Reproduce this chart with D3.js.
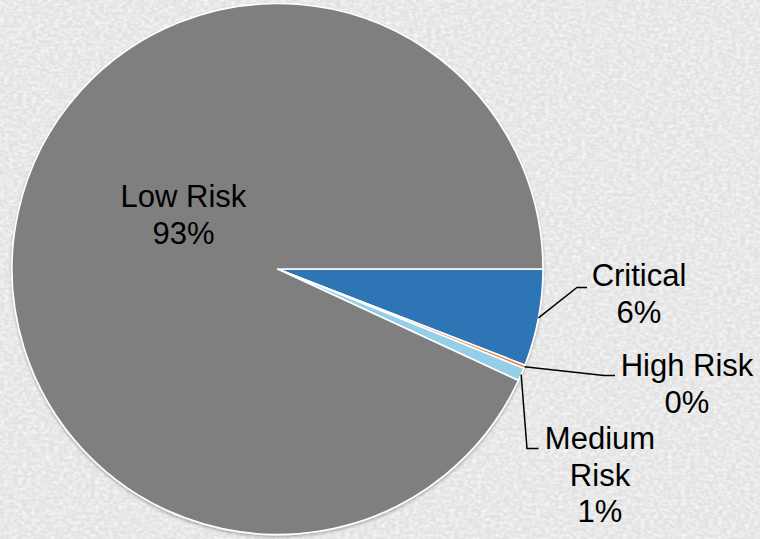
<!DOCTYPE html>
<html>
<head>
<meta charset="utf-8">
<script src="https://cdn.jsdelivr.net/npm/d3@7/dist/d3.min.js"></script>
<style>
  html, body { margin: 0; padding: 0; background: #e6e6e6; }
  svg { display: block; }
  text { font-family: "Liberation Sans", Arial, sans-serif; fill: #000; }
</style>
</head>
<body>
<svg id="chart" width="760" height="539"></svg>
<script>
// Risk distribution (share of total, %)
const categories = ["Critical", "High Risk", "Medium Risk", "Low Risk"];
const shares = [5.9, 0.2, 0.8, 93.1];
const colors = ["#2e75b6", "#ed7d31", "#93cfe8", "#7f7f7f"];

const width = 760, height = 539;
const cx = 277.5, cy = 269, radius = 265.5;
const fontSize = 31;

const svg = d3.select("#chart");
const defs = svg.append("defs");

// Fine-grained paper texture for the background
const paper = defs.append("filter").attr("id", "paper")
  .attr("x", 0).attr("y", 0).attr("width", "100%").attr("height", "100%");
paper.append("feTurbulence").attr("type", "fractalNoise")
  .attr("baseFrequency", "0.22 0.32").attr("numOctaves", 2).attr("seed", 3).attr("result", "noise");
paper.append("feColorMatrix").attr("in", "noise").attr("type", "matrix")
  .attr("values", "0 0 0 0 1  0 0 0 0 1  0 0 0 0 1  1.4 0 0 0 -0.5").attr("result", "light");
paper.append("feComposite").attr("in", "light").attr("in2", "SourceGraphic").attr("operator", "over");

const shadow = defs.append("filter").attr("id", "shadow")
  .attr("x", "-5%").attr("y", "-5%").attr("width", "110%").attr("height", "110%");
shadow.append("feDropShadow").attr("dx", 0).attr("dy", 2).attr("stdDeviation", 1.5)
  .attr("flood-color", "#000").attr("flood-opacity", 0.25);

svg.append("rect").attr("width", width).attr("height", height)
  .attr("fill", "#e2e2e2").attr("filter", "url(#paper)");

const data = categories.map((c, i) => ({ name: c, value: shares[i], color: colors[i] }));

const pie = d3.pie().value(d => d.value).sort(null)
  .startAngle(Math.PI / 2).endAngle(Math.PI / 2 + 2 * Math.PI);
const arcs = pie(data);
const arc = d3.arc().innerRadius(0).outerRadius(radius);

const g = svg.append("g").attr("transform", `translate(${cx},${cy})`);
g.append("g").attr("filter", "url(#shadow)")
  .selectAll("path").data(arcs).join("path")
  .attr("d", arc)
  .attr("fill", d => d.data.color)
  .attr("stroke", "#fff")
  .attr("stroke-width", 1.6)
  .attr("stroke-linejoin", "round");

// Label layout: text anchor position and leader-line bends
const labelLayout = {
  "Low Risk":    { x: 183.5, y: 207, lines: ["Low Risk"], leader: null },
  "Critical":    { x: 639, y: 286, lines: ["Critical"], leader: [[577, 287.5], [587, 287.5]] },
  "High Risk":   { x: 687, y: 376, lines: ["High Risk"], leader: [[604, 375.5], [615, 375.5]] },
  "Medium Risk": { x: 600, y: 449, lines: ["Medium", "Risk"], leader: [[527, 448.5], [538.5, 448.5]] }
};
const lineHeight = fontSize * 1.18;

const labels = svg.append("g");
arcs.forEach(a => {
  const L = labelLayout[a.data.name];
  const pct = Math.round(a.data.value) + "%";
  const rows = L.lines.concat([pct]);
  const t = labels.append("text")
    .attr("text-anchor", "middle")
    .attr("font-size", fontSize);
  rows.forEach((r, i) => {
    t.append("tspan").attr("x", L.x).attr("y", L.y + i * lineHeight).text(r);
  });
  if (L.leader) {
    const mid = (a.startAngle + a.endAngle) / 2;
    const start = [cx + radius * Math.sin(mid), cy - radius * Math.cos(mid)];
    labels.append("path")
      .attr("d", d3.line()([start].concat(L.leader)))
      .attr("fill", "none")
      .attr("stroke", "#000")
      .attr("stroke-width", 1.5);
  }
});
</script>
</body>
</html>
